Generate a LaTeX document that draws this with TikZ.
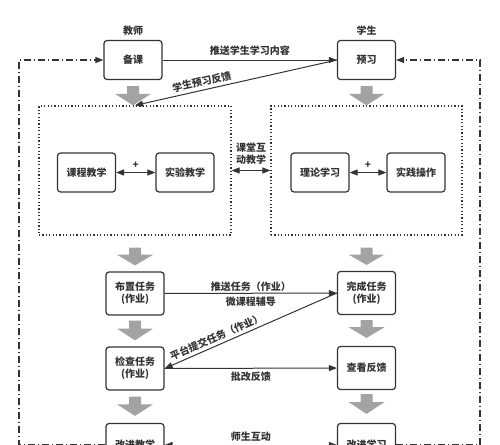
\documentclass[tikz,border=0pt]{standalone}
\usepackage{fontspec}
\setmainfont{Noto Sans CJK SC}
\usetikzlibrary{positioning,calc,arrows.meta}
\definecolor{linegray}{HTML}{333333}
\definecolor{arrowgray}{HTML}{A3A3A3}
\newcommand{\bigdown}[2]{%
  \path #1 coordinate (ba) #2 coordinate (bb);
  \path (ba |- bb) coordinate (bc) ($(ba)!0.4!(bc)$) coordinate (bm);
  \fill [arrowgray] ($(ba)+(-6,0)$) -- ($(ba)+(6,0)$) -- ($(bm)+(6,0)$) -- ($(bm)+(18,0)$)
    -- (bc) -- ($(bm)+(-18,0)$) -- ($(bm)+(-6,0)$) -- cycle;}

\begin{document}
\begin{tikzpicture}[x=1pt, y=-1pt, every node/.style={font=\bfseries},
    box/.style={draw=linegray, line width=1.2pt, rounded corners=3pt, minimum width=58pt,
      minimum height=39pt, align=center, text=linegray, inner sep=2pt},
    zone/.style={draw=linegray, line width=1.2pt, dash pattern=on 1.2pt off 2.2pt},
    link/.style={draw=linegray, line width=1pt, -{Triangle[length=8pt,width=6pt]}},
    twoway/.style={link, {Triangle[length=8pt,width=6pt]}-{Triangle[length=8pt,width=6pt]}},
    loopline/.style={link, line width=1.1pt, dash pattern=on 7pt off 3pt on 1pt off 3pt},
    tag/.style={text=linegray, inner sep=1pt, align=center}]
    \useasboundingbox (0,0) rectangle (500,444);
    \clip (0,0) rectangle (500,444);
                % top row
                \node [box] (bk) at (133,60) {备课};
                \node [box] (yx) at (366.5,60) {预习};
                \node [tag, above=3pt of bk] (js) {教师};
                \node [tag, above=3pt of yx] (xs) {学生};
                % classroom zones
                \node [zone, minimum width=192pt, minimum height=129pt] (jx) at (135,170.5) {};
                \node [zone, minimum width=191pt, minimum height=129pt] (xx) at (366.5,170.5) {};
                \node [box] (kc) at (86.5,172.5) {课程教学};
                \node [box] (sy) at (185,172.5) {实验教学};
                \node [box] (ll) at (320,172.5) {理论学习};
                \node [box] (sj) at (416,172.5) {实践操作};
                % task rows
                \node [box, minimum height=43pt] (bz) at (135,293.5) {布置任务\\(作业)};
                \node [box, minimum height=43pt] (wc) at (366.5,293) {完成任务\\(作业)};
                \node [box, minimum height=43pt] (jc) at (135,368.5) {检查任务\\(作业)};
                \node [box, minimum height=43pt] (ck) at (366.5,368) {查看反馈};
                \node [box, minimum height=43pt] (gj) at (135,445) {改进教学};
                \node [box, minimum height=43pt] (gx) at (366.5,445) {改进学习};
                % gray flow arrows
                \bigdown{($(bk.south)+(0,6)$)}{(jx.north)}
                \bigdown{($(yx.south)+(0,6)$)}{(xx.north)}
                \bigdown{($(jx.south)+(0,12)$)}{($(bz.north)+(0,-6)$)}
                \bigdown{($(xx.south)+(0,12)$)}{($(wc.north)+(0,-6)$)}
                \bigdown{($(bz.south)+(0,5)$)}{($(jc.north)+(0,-6)$)}
                \bigdown{($(wc.south)+(0,5)$)}{($(ck.north)+(0,-8)$)}
                \bigdown{($(jc.south)+(0,6)$)}{($(gj.north)+(0,-7)$)}
                \bigdown{($(ck.south)+(0,4)$)}{($(gx.north)+(0,-9)$)}
                % connectors
                \draw [link] (bk) -- (yx) node [tag, midway, above=3pt] {推送学生学习内容};
                \draw [link] (yx.west) -- (jx.north) node [tag, pos=0.66, above=2pt, sloped] {学生预习反馈};
                \draw [twoway] (kc) -- (sy) node [tag, midway, above=3pt] {+};
                \draw [twoway] (ll) -- (sj) node [tag, midway, above=3pt] {+};
                \draw [twoway] (jx) -- (xx) node [tag, midway, above=5pt] {课堂互\\动教学};
                \draw [link] (bz) -- (wc) node [tag, midway, above] {推送任务（作业）}
                    node [tag, midway, below=2pt] {微课程辅导};
                \draw [link] (wc.west) -- (jc.east) node [tag, pos=0.68, above=2pt, sloped] {平台提交任务（作业）};
                \draw [link] (jc) -- (ck) node [tag, midway, below=2pt] {批改反馈};
                \draw [twoway] (gj) -- (gx) node [tag, midway, above=2pt] {师生互动};
                % feedback loops
                \coordinate (lft) at (19,60);
                \coordinate (rgt) at (480,60);
                \draw [loopline] (gj.west) -| (lft) -- (bk.west);
                \draw [loopline] (gx.east) -| (rgt) -- (yx.east);
            \end{tikzpicture}
\end{document}
